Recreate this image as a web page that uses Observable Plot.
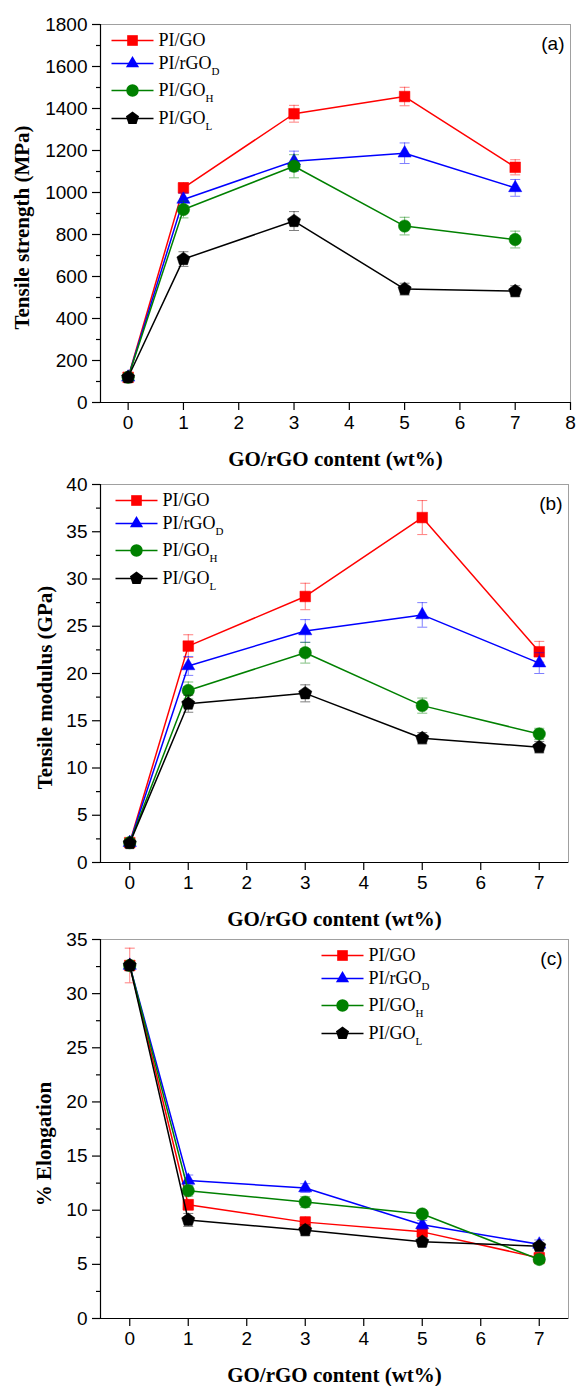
<!DOCTYPE html>
<html><head><meta charset="utf-8">
<script src="https://cdn.jsdelivr.net/npm/d3@7"></script>
<script src="https://cdn.jsdelivr.net/npm/@observablehq/plot@0.6"></script>
<style>
body{margin:0;background:#fff;}
#wrap{position:relative;width:577px;height:1386px;overflow:hidden;}
.panel{position:absolute;left:0;}
</style></head><body><div id="wrap"></div>
<script>
// ---------- data ----------
const content = [0, 1, 3, 5, 7];
const seriesNames = ["PI/GO", "PI/rGO", "PI/GO", "PI/GO"];
const seriesSubs = ["", "D", "H", "L"];

// (a) Tensile strength (MPa)
const strengthGO   = [120, 1022, 1375, 1457, 1120];
const strengthGOe  = [15, 25, 40, 44, 36];
const strengthRD   = [120, 967, 1149, 1187, 1022];
const strengthRDe  = [12, 30, 48, 49, 40];
const strengthH    = [120, 919, 1125, 840, 776];
const strengthHe   = [12, 40, 55, 42, 40];
const strengthL    = [120, 683, 864, 540, 530];
const strengthLe   = [12, 35, 45, 28, 26];

// (b) Tensile modulus (GPa)
const modulusGO  = [2.1, 22.9, 28.15, 36.5, 22.3];
const modulusGOe = [0.2, 1.2, 1.4, 1.8, 1.1];
const modulusRD  = [2.1, 20.8, 24.5, 26.2, 21.1];
const modulusRDe = [0.2, 1.0, 1.2, 1.3, 1.1];
const modulusH   = [2.1, 18.2, 22.2, 16.6, 13.6];
const modulusHe  = [0.2, 0.9, 1.1, 0.8, 0.6];
const modulusL   = [2.05, 16.8, 17.9, 13.15, 12.2];
const modulusLe  = [0.2, 0.9, 0.9, 0.6, 0.6];

// (c) % Elongation
const elongGO  = [32.6, 10.5, 8.9, 8.0, 5.6];
const elongGOe = [1.6, 0.5, 0.5, 0.4, 0.5];
const elongRD  = [32.6, 12.75, 12.05, 8.65, 6.85];
const elongRDe = [0.3, 0.5, 0.4, 0.4, 0.4];
const elongH   = [32.6, 11.8, 10.75, 9.65, 5.45];
const elongHe  = [0.3, 0.5, 0.5, 0.3, 0.4];
const elongL   = [32.6, 9.1, 8.15, 7.08, 6.68];
const elongLe  = [0.3, 0.6, 0.5, 0.4, 0.3];

const xTicksA = [0, 1, 2, 3, 4, 5, 6, 7, 8];
const xTicksBC = [0, 1, 2, 3, 4, 5, 6, 7];
const yTicksA = [0, 200, 400, 600, 800, 1000, 1200, 1400, 1600, 1800];
const yMinorA = [100, 300, 500, 700, 900, 1100, 1300, 1500, 1700];
const yTicksB = [0, 5, 10, 15, 20, 25, 30, 35, 40];
const yMinorB = [2.5, 7.5, 12.5, 17.5, 22.5, 27.5, 32.5, 37.5];
const yTicksC = [0, 5, 10, 15, 20, 25, 30, 35];
const yMinorC = [2.5, 7.5, 12.5, 17.5, 22.5, 27.5, 32.5];

const xTitle = "GO/rGO content (wt%)";

// ---------- styles ----------
const colors = ["#ff0000", "#0000ff", "#008000", "#000000"];
const SANS = "Liberation Sans, Arial, sans-serif";
const SERIF = "Liberation Serif, Times New Roman, serif";

const pentagon = {draw(ctx, size) {
  const R = Math.sqrt(size / 2.378);
  for (let i = 0; i < 5; i++) {
    const a = -Math.PI / 2 + i * 2 * Math.PI / 5;
    const px = R * Math.cos(a), py = R * Math.sin(a);
    if (i) ctx.lineTo(px, py); else ctx.moveTo(px, py);
  }
  ctx.closePath();
}};
const capSym = {draw(ctx) { ctx.moveTo(-5, 0); ctx.lineTo(5, 0); }};
const legendLine = {draw(ctx) { ctx.moveTo(-21, 0); ctx.lineTo(21, 0); }};
const symbols = ["square", "triangle", "circle", pentagon];
const radii = [6, 4.9, 6.2, 6];

const mctx = document.createElement("canvas").getContext("2d");
function measure(t, font) { mctx.font = font; return mctx.measureText(t).width; }

function makeTable(vals, errs) {
  return content.map((x, i) => ({x, y: vals[i], err: errs[i]}));
}

function panel(o) {
  const marks = [];
  marks.push(Plot.frame({stroke: "#a0a0a0", strokeWidth: 1}));
  o.series.forEach((s, i) => {
    const data = makeTable(s[0], s[1]);
    const c = colors[i];
    marks.push(Plot.ruleX(data, {x: "x", y1: d => d.y - d.err, y2: d => d.y + d.err, stroke: c, strokeOpacity: 0.5, strokeWidth: 1}));
    marks.push(Plot.dot(data, {x: "x", y: d => d.y + d.err, symbol: capSym, stroke: c, strokeOpacity: 0.5, fill: "none", strokeWidth: 1}));
    marks.push(Plot.dot(data, {x: "x", y: d => d.y - d.err, symbol: capSym, stroke: c, strokeOpacity: 0.5, fill: "none", strokeWidth: 1}));
    marks.push(Plot.line(data, {x: "x", y: "y", stroke: c, strokeWidth: 1.5}));
    marks.push(Plot.dot(data, {x: "x", y: "y", symbol: symbols[i], fill: c, r: radii[i], stroke: c, strokeWidth: 0.5}));
  });
  // axes
  marks.push(Plot.ruleY([o.yDomain[0]], {stroke: "black", strokeWidth: 1.2}));
  marks.push(Plot.ruleX([o.xDomain[0]], {stroke: "black", strokeWidth: 1.2}));
  marks.push(Plot.axisX({ticks: o.xTicks, tickSize: 8, tickPadding: 5, fontSize: 19, fontFamily: SANS, tickFormat: d => String(d), label: null, strokeWidth: 1.2}));
  marks.push(Plot.axisY({ticks: o.yTicks, tickSize: 8, tickPadding: 5, fontSize: 19, fontFamily: SANS, tickFormat: d => String(d), label: null, strokeWidth: 1.2}));
  marks.push(Plot.axisY({ticks: o.yMinor, tickSize: 4, tickFormat: () => "", label: null, strokeWidth: 1.2}));
  // titles
  marks.push(Plot.text([xTitle], {frameAnchor: "bottom", dy: 57, text: d => d, textAnchor: "middle", lineAnchor: "middle", fontFamily: SERIF, fontWeight: "bold", fontSize: 21, fill: "black"}));
  marks.push(Plot.text([o.yTitle], {frameAnchor: "left", dx: o.yTitleDx, dy: o.yTitleDy, rotate: -90, text: d => d, textAnchor: "middle", lineAnchor: "middle", fontFamily: SERIF, fontWeight: "bold", fontSize: 21, fill: "black"}));
  marks.push(Plot.text([o.tag], {frameAnchor: "top-right", dx: -6, dy: 19, text: d => d, textAnchor: "end", lineAnchor: "middle", fontFamily: SANS, fontSize: 19, fill: "black"}));
  // legend
  const rows = [16, 39, 66, 94];
  const lfont = "18px " + SERIF;
  seriesNames.forEach((name, i) => {
    const dy = rows[i];
    marks.push(Plot.dot([name], {frameAnchor: "top-left", dx: o.legendDx, dy, symbol: legendLine, stroke: colors[i], fill: "none", strokeWidth: 1.5}));
    marks.push(Plot.dot([name], {frameAnchor: "top-left", dx: o.legendDx, dy, symbol: symbols[i], fill: colors[i], r: radii[i]}));
    marks.push(Plot.text([name], {frameAnchor: "top-left", dx: o.legendDx + 26, dy, text: d => d, textAnchor: "start", lineAnchor: "middle", fontFamily: SERIF, fontSize: 18, fill: "black"}));
    if (seriesSubs[i]) {
      const w = measure(name, lfont);
      marks.push(Plot.text([seriesSubs[i]], {frameAnchor: "top-left", dx: o.legendDx + 26 + w, dy: dy + 8, text: d => d, textAnchor: "start", lineAnchor: "middle", fontFamily: SERIF, fontSize: 11, fill: "black"}));
    }
  });
  const chart = Plot.plot({
    width: 577, height: o.height,
    marginTop: 24, marginBottom: o.height - 24 - o.plotH, marginLeft: 100, marginRight: o.marginRight,
    x: {domain: o.xDomain, axis: null},
    y: {domain: o.yDomain, axis: null},
    style: {background: "transparent", fontFamily: SANS, fontSize: "19px", color: "black", overflow: "visible"},
    marks
  });
  chart.classList.add("panel");
  chart.style.top = o.top + "px";
  document.getElementById("wrap").appendChild(chart);
}

panel({top: 0, height: 472, plotH: 378, marginRight: 7, xDomain: [-0.5, 8], xTicks: xTicksA,
  yDomain: [0, 1800], yTicks: yTicksA, yMinor: yMinorA, yTitle: "Tensile strength (MPa)", yTitleDx: -78, yTitleDy: 14,
  tag: "(a)", legendDx: 32,
  series: [[strengthGO, strengthGOe], [strengthRD, strengthRDe], [strengthH, strengthHe], [strengthL, strengthLe]]});

panel({top: 460, height: 472, plotH: 378, marginRight: 9, xDomain: [-0.5, 7.5], xTicks: xTicksBC,
  yDomain: [0, 40], yTicks: yTicksB, yMinor: yMinorB, yTitle: "Tensile modulus (GPa)", yTitleDx: -55, yTitleDy: 14,
  tag: "(b)", legendDx: 36,
  series: [[modulusGO, modulusGOe], [modulusRD, modulusRDe], [modulusH, modulusHe], [modulusL, modulusLe]]});

panel({top: 915, height: 471, plotH: 379, marginRight: 9, xDomain: [-0.5, 7.5], xTicks: xTicksBC,
  yDomain: [0, 35], yTicks: yTicksC, yMinor: yMinorC, yTitle: "% Elongation", yTitleDx: -56, yTitleDy: 15,
  tag: "(c)", legendDx: 242,
  series: [[elongGO, elongGOe], [elongRD, elongRDe], [elongH, elongHe], [elongL, elongLe]]});
</script>
</body></html>
